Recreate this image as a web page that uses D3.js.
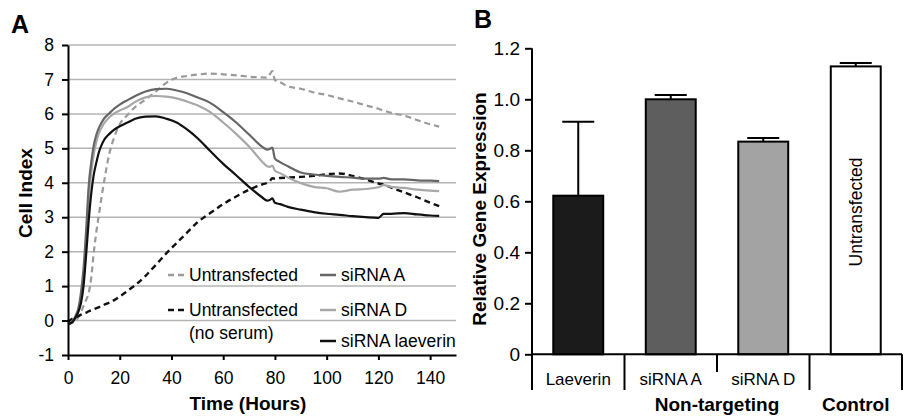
<!DOCTYPE html>
<html>
<head>
<meta charset="utf-8">
<script src="https://cdn.jsdelivr.net/npm/d3@7"></script>
<style>
  body { margin: 0; background: #fff; }
  svg { font-family: "Liberation Sans", Arial, sans-serif; }
</style>
</head>
<body>
<div class="graphContainer"></div>
<script>
// panel A data: cell index over time
var hours = [0, 1, 2, 3, 4, 5, 6, 7, 8, 9, 10, 11, 12, 13, 14, 16, 18, 20, 23, 26, 30, 34, 38, 42, 46, 50, 55, 60, 65, 70, 75, 77, 78, 79, 80, 82, 85, 90, 95, 100, 105, 110, 115, 120, 122, 125, 130, 135, 140, 143.5];
var sirnaA = [-0.1, -0.08, 0, 0.15, 0.35, 0.8, 1.5, 2.6, 3.9, 4.6, 5.1, 5.4, 5.6, 5.75, 5.87, 6.02, 6.16, 6.27, 6.4, 6.52, 6.65, 6.72, 6.73, 6.68, 6.6, 6.48, 6.32, 6.05, 5.75, 5.4, 5.05, 4.96, 4.98, 5.02, 4.7, 4.6, 4.48, 4.3, 4.24, 4.2, 4.17, 4.15, 4.12, 4.12, 4.14, 4.1, 4.1, 4.07, 4.06, 4.05];
var sirnaD = [-0.1, -0.08, 0, 0.12, 0.3, 0.7, 1.3, 2.3, 3.5, 4.3, 4.85, 5.2, 5.45, 5.6, 5.73, 5.9, 6.02, 6.1, 6.2, 6.35, 6.48, 6.52, 6.5, 6.45, 6.36, 6.25, 6.05, 5.75, 5.42, 5.05, 4.62, 4.48, 4.46, 4.5, 4.35, 4.28, 4.15, 3.99, 3.88, 3.84, 3.74, 3.8, 3.82, 3.87, 3.93, 3.88, 3.85, 3.8, 3.77, 3.76];
var sirnaLaeverin = [-0.1, -0.08, -0.02, 0.1, 0.25, 0.5, 1.0, 1.9, 2.9, 3.7, 4.25, 4.6, 4.9, 5.1, 5.25, 5.42, 5.55, 5.64, 5.75, 5.86, 5.92, 5.93, 5.86, 5.75, 5.55, 5.3, 4.92, 4.55, 4.22, 3.88, 3.58, 3.48, 3.5, 3.55, 3.42, 3.38, 3.3, 3.22, 3.15, 3.1, 3.07, 3.03, 3.0, 2.98, 3.1, 3.1, 3.12, 3.08, 3.05, 3.04];
var untransfected = [-0.1, -0.08, -0.05, 0, 0.1, 0.25, 0.42, 0.6, 0.8, 1.25, 2.0, 2.6, 3.1, 3.6, 4.05, 4.85, 5.35, 5.7, 5.97, 6.2, 6.42, 6.65, 6.9, 7.05, 7.1, 7.14, 7.17, 7.15, 7.12, 7.08, 7.06, 7.05, 7.15, 7.24, 6.98, 6.92, 6.8, 6.73, 6.62, 6.55, 6.45, 6.36, 6.25, 6.15, 6.1, 6.03, 5.95, 5.82, 5.7, 5.63];
var noSerum = [-0.05, 0.02, 0.07, 0.1, 0.13, 0.17, 0.2, 0.23, 0.27, 0.3, 0.33, 0.36, 0.39, 0.42, 0.46, 0.52, 0.6, 0.7, 0.86, 1.03, 1.3, 1.62, 1.95, 2.25, 2.55, 2.85, 3.12, 3.38, 3.6, 3.8, 3.95, 4.0, 4.05, 4.13, 4.12, 4.14, 4.15, 4.17, 4.2, 4.25, 4.27, 4.2, 4.1, 3.98, 3.95, 3.86, 3.72, 3.58, 3.42, 3.32];
var xTicks = [0, 20, 40, 60, 80, 100, 120, 140];
var yTicks = [-1, 0, 1, 2, 3, 4, 5, 6, 7, 8];

// panel B data: relative gene expression
var genes = ["Laeverin", "siRNA A", "siRNA D", "Untransfected"];
var geneLabels = ["Laeverin", "siRNA A", "siRNA D", ""];
var expression = [0.622, 1.0, 0.834, 1.129];
var expressionErr = [0.29, 0.017, 0.014, 0.013];
var exprTicks = [0, 0.2, 0.4, 0.6, 0.8, 1.0, 1.2];

var svg = d3
  .select(".graphContainer")
  .append("svg")
  .attr("width", 906)
  .attr("height", 417);

// ---------- panel A ----------
var xScale = d3.scaleLinear().domain([0, 150]).range([68, 456]);
var yScale = d3.scaleLinear().domain([-1, 8]).range([355, 45]);

// gridlines
svg
  .append("g")
  .selectAll("line")
  .data(yTicks.filter((d) => d >= 0))
  .enter()
  .append("line")
  .attr("x1", xScale(0))
  .attr("x2", xScale(150))
  .attr("y1", (d) => yScale(d))
  .attr("y2", (d) => yScale(d))
  .style("stroke", "#b4b4b4")
  .style("stroke-width", 1.5);

var series = [
  { name: "Untransfected", values: untransfected, color: "#9a9a9a", dash: "6,4", width: 2.2 },
  { name: "noSerum", values: noSerum, color: "#111", dash: "6,4", width: 2.4 },
  { name: "siRNA D", values: sirnaD, color: "#a8a8a8", dash: null, width: 2.2 },
  { name: "siRNA A", values: sirnaA, color: "#666", dash: null, width: 2.2 },
  { name: "siRNA laeverin", values: sirnaLaeverin, color: "#111", dash: null, width: 2.2 }
];

var line = d3
  .line()
  .x((d, i) => xScale(hours[i]))
  .y((d) => yScale(d))
  .curve(d3.curveMonotoneX);

svg
  .append("g")
  .selectAll("path")
  .data(series)
  .enter()
  .append("path")
  .attr("d", (d) => line(d.values))
  .style("fill", "none")
  .style("stroke", (d) => d.color)
  .style("stroke-width", (d) => d.width)
  .style("stroke-dasharray", (d) => d.dash);

// axes
var xAxis = d3.axisBottom(xScale).tickValues(xTicks).tickSize(5).tickPadding(12).tickSizeOuter(0);
var xAxisGroup = svg
  .append("g")
  .attr("transform", "translate(0," + yScale(-1) + ")")
  .call(xAxis);

var yAxis = d3
  .axisLeft(yScale)
  .tickValues(yTicks)
  .tickFormat((d) => String(d))
  .tickSize(6)
  .tickPadding(8)
  .tickSizeOuter(0);
var yAxisGroup = svg
  .append("g")
  .attr("transform", "translate(" + xScale(0) + ",0)")
  .call(yAxis);

[xAxisGroup, yAxisGroup].forEach(function (g) {
  g.selectAll("path, line").style("stroke", "#000").style("stroke-width", 2);
  g.selectAll("text").style("font-size", "17.5px").style("fill", "#000");
});

svg
  .append("text")
  .attr("x", 248)
  .attr("y", 410)
  .attr("text-anchor", "middle")
  .style("font-size", "19px")
  .style("font-weight", "bold")
  .text("Time (Hours)");

svg
  .append("text")
  .attr("transform", "translate(32,193) rotate(-90)")
  .attr("text-anchor", "middle")
  .style("font-size", "19px")
  .style("font-weight", "bold")
  .text("Cell Index");

svg
  .append("text")
  .attr("x", 11)
  .attr("y", 33)
  .style("font-size", "25px")
  .style("font-weight", "bold")
  .text("A");

// legend
var legend = [
  { s: series[0], x: 168, y: 275, label: ["Untransfected"] },
  { s: series[1], x: 168, y: 310, label: ["Untransfected", "(no serum)"] },
  { s: series[3], x: 320, y: 275, label: ["siRNA A"] },
  { s: series[2], x: 320, y: 310, label: ["siRNA D"] },
  { s: series[4], x: 320, y: 341, label: ["siRNA laeverin"] }
];

var legendItems = svg.append("g").selectAll("g").data(legend).enter().append("g");
legendItems
  .append("line")
  .attr("x1", (d) => d.x)
  .attr("x2", (d) => d.x + 16)
  .attr("y1", (d) => d.y)
  .attr("y2", (d) => d.y)
  .style("stroke", (d) => d.s.color)
  .style("stroke-width", (d) => d.s.width + 0.3)
  .style("stroke-dasharray", (d) => d.s.dash);
legendItems
  .append("text")
  .attr("x", (d) => d.x + 21)
  .attr("y", (d) => d.y)
  .style("font-size", "17.5px")
  .selectAll("tspan")
  .data((d) => d.label)
  .enter()
  .append("tspan")
  .attr("x", function () { return d3.select(this.parentNode).attr("x"); })
  .attr("dy", (d, i) => (i == 0 ? "0.35em" : "1.3em"))
  .text((d) => d);

// ---------- panel B ----------
var bScale = d3.scaleBand().domain(genes).range([532, 902]).paddingInner(0.46).paddingOuter(0.23);
var eScale = d3.scaleLinear().domain([0, 1.2]).range([354.3, 48.3]);
var barColors = ["#1b1b1b", "#5e5e5e", "#a3a3a3", "#fff"];

svg
  .append("g")
  .selectAll("rect")
  .data(genes)
  .enter()
  .append("rect")
  .attr("x", (d) => bScale(d))
  .attr("width", bScale.bandwidth())
  .attr("y", (d, i) => eScale(expression[i]))
  .attr("height", (d, i) => eScale(0) - eScale(expression[i]))
  .style("fill", (d, i) => barColors[i])
  .style("stroke", "#000")
  .style("stroke-width", 2);

// error bars (upper only)
var errG = svg.append("g").selectAll("g").data(genes).enter().append("g");
errG
  .append("line")
  .attr("x1", (d) => bScale(d) + bScale.bandwidth() / 2)
  .attr("x2", (d) => bScale(d) + bScale.bandwidth() / 2)
  .attr("y1", (d, i) => eScale(expression[i]))
  .attr("y2", (d, i) => eScale(expression[i] + expressionErr[i]))
  .style("stroke", "#000")
  .style("stroke-width", 2);
errG
  .append("line")
  .attr("x1", (d) => bScale(d) + bScale.bandwidth() / 2 - 16)
  .attr("x2", (d) => bScale(d) + bScale.bandwidth() / 2 + 16)
  .attr("y1", (d, i) => eScale(expression[i] + expressionErr[i]))
  .attr("y2", (d, i) => eScale(expression[i] + expressionErr[i]))
  .style("stroke", "#000")
  .style("stroke-width", 2);

var eAxis = d3
  .axisLeft(eScale)
  .tickValues(exprTicks)
  .tickFormat((d) => (d == 0 ? "0" : d3.format(".1f")(d)))
  .tickSize(7)
  .tickPadding(5)
  .tickSizeOuter(0);
var eAxisGroup = svg.append("g").attr("transform", "translate(532,0)").call(eAxis);
eAxisGroup.select(".domain").remove();
eAxisGroup.selectAll("line").style("stroke", "#000").style("stroke-width", 2);
eAxisGroup.selectAll("text").style("font-size", "19px").style("fill", "#000");

// axis frame and category dividers
var frame = svg.append("g").style("stroke", "#000").style("stroke-width", 2);
frame.append("line").attr("x1", 532).attr("x2", 532).attr("y1", eScale(1.2)).attr("y2", 390);
frame.append("line").attr("x1", 532).attr("x2", 902).attr("y1", eScale(0)).attr("y2", eScale(0));
var step = bScale.step();
frame
  .selectAll(".divider")
  .data(genes)
  .enter()
  .append("line")
  .attr("class", "divider")
  .attr("x1", (d) => bScale(d) - bScale.paddingOuter() * step + step)
  .attr("x2", (d) => bScale(d) - bScale.paddingOuter() * step + step)
  .attr("y1", eScale(0))
  .attr("y2", (d, i) => (i == 1 ? 372 : 390));

svg
  .append("g")
  .selectAll("text")
  .data(genes)
  .enter()
  .append("text")
  .attr("x", (d) => bScale(d) + bScale.bandwidth() / 2)
  .attr("y", 385)
  .attr("text-anchor", "middle")
  .style("font-size", "17px")
  .text((d, i) => geneLabels[i]);

svg
  .append("text")
  .attr("x", bScale("siRNA A") + bScale.bandwidth() / 2 + step / 2)
  .attr("y", 411)
  .attr("text-anchor", "middle")
  .style("font-size", "19px")
  .style("font-weight", "bold")
  .text("Non-targeting");

svg
  .append("text")
  .attr("x", bScale("Untransfected") + bScale.bandwidth() / 2)
  .attr("y", 411)
  .attr("text-anchor", "middle")
  .style("font-size", "19px")
  .style("font-weight", "bold")
  .text("Control");

svg
  .append("text")
  .attr("transform", "translate(" + (bScale("Untransfected") + bScale.bandwidth() / 2 + 6) + ",212) rotate(-90)")
  .attr("text-anchor", "middle")
  .style("font-size", "17.5px")
  .text("Untransfected");

svg
  .append("text")
  .attr("transform", "translate(486,209) rotate(-90)")
  .attr("text-anchor", "middle")
  .style("font-size", "19px")
  .style("font-weight", "bold")
  .text("Relative Gene Expression");

svg
  .append("text")
  .attr("x", 474)
  .attr("y", 28)
  .style("font-size", "25px")
  .style("font-weight", "bold")
  .text("B");
</script>
</body>
</html>
